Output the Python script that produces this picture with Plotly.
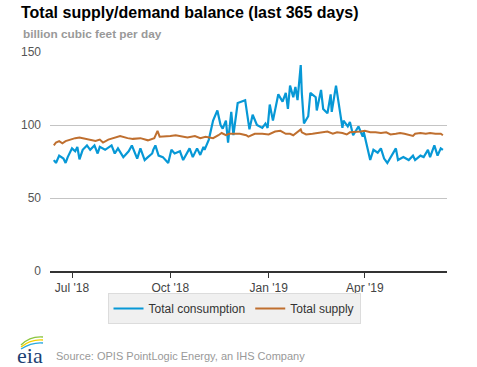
import plotly.graph_objects as go

# ---------------- data ----------------
consumption_dates = [
    "2018-06-14", "2018-06-16", "2018-06-19", "2018-06-23", "2018-06-25", "2018-06-27",
    "2018-07-01", "2018-07-04", "2018-07-06", "2018-07-08", "2018-07-11", "2018-07-15",
    "2018-07-18", "2018-07-22", "2018-07-25", "2018-07-27", "2018-08-01", "2018-08-03",
    "2018-08-07", "2018-08-10", "2018-08-13", "2018-08-18", "2018-08-23", "2018-08-26",
    "2018-08-31", "2018-09-03", "2018-09-07", "2018-09-10", "2018-09-14", "2018-09-15",
    "2018-09-17", "2018-09-20", "2018-09-24", "2018-09-29", "2018-10-02", "2018-10-05",
    "2018-10-10", "2018-10-13", "2018-10-17", "2018-10-19", "2018-10-22", "2018-10-26",
    "2018-10-29", "2018-11-01", "2018-11-02", "2018-11-06", "2018-11-10", "2018-11-14",
    "2018-11-17", "2018-11-19", "2018-11-22", "2018-11-24", "2018-11-27", "2018-11-29",
    "2018-12-03", "2018-12-10", "2018-12-14", "2018-12-17", "2018-12-21", "2018-12-26",
    "2018-12-29", "2018-12-31", "2019-01-02", "2019-01-05", "2019-01-10", "2019-01-14",
    "2019-01-17", "2019-01-19", "2019-01-21", "2019-01-24", "2019-01-26", "2019-01-28",
    "2019-01-31", "2019-02-01", "2019-02-03", "2019-02-07", "2019-02-09", "2019-02-14",
    "2019-02-15", "2019-02-19", "2019-02-21", "2019-02-25", "2019-02-28", "2019-03-01",
    "2019-03-05", "2019-03-09", "2019-03-11", "2019-03-12", "2019-03-16", "2019-03-18",
    "2019-03-21", "2019-03-26", "2019-03-30", "2019-03-31", "2019-04-03", "2019-04-06",
    "2019-04-09", "2019-04-13", "2019-04-16", "2019-04-19", "2019-04-22", "2019-04-25",
    "2019-04-30", "2019-05-02", "2019-05-07", "2019-05-12", "2019-05-16", "2019-05-18",
    "2019-05-23", "2019-05-26", "2019-05-30", "2019-06-01", "2019-06-05", "2019-06-08",
    "2019-06-11", "2019-06-13",
]
consumption_values = [
    76, 74, 79, 77, 74, 78,
    84, 82, 85, 76.5, 83, 86,
    83, 86, 80.5, 85, 83, 84,
    86, 80.5, 84, 78, 82, 86,
    77, 84, 76, 78, 80.5, 83,
    86, 79, 78, 74, 83, 80.5,
    82, 76, 82, 84, 78, 84,
    79.5, 85, 83, 90, 103, 110,
    100, 97.5, 103, 88, 109, 93,
    115, 117, 97, 107, 100, 98,
    101, 98, 114, 103, 121, 116,
    122, 111, 127, 119, 126, 117,
    141, 122, 101, 106, 122, 119,
    110, 124, 111, 108, 121, 109,
    127, 106, 98, 103, 99, 102,
    93, 99, 92, 95, 85, 76,
    83, 81, 84, 77, 74, 78,
    84, 76, 78, 76, 79, 76,
    79, 78, 83, 78, 86, 79,
    84, 83,
]

supply_dates = [
    "2018-06-14", "2018-06-16", "2018-06-19", "2018-06-22", "2018-06-25", "2018-06-29",
    "2018-07-04", "2018-07-08", "2018-07-14", "2018-07-18", "2018-07-23", "2018-07-27",
    "2018-07-30", "2018-08-04", "2018-08-08", "2018-08-15", "2018-08-22", "2018-08-27",
    "2018-09-03", "2018-09-07", "2018-09-10", "2018-09-16", "2018-09-19", "2018-09-21",
    "2018-09-25", "2018-10-01", "2018-10-06", "2018-10-12", "2018-10-17", "2018-10-24",
    "2018-10-29", "2018-11-03", "2018-11-10", "2018-11-15", "2018-11-18", "2018-11-22",
    "2018-11-25", "2018-12-05", "2018-12-11", "2018-12-13", "2018-12-19", "2018-12-26",
    "2019-01-01", "2019-01-07", "2019-01-12", "2019-01-17", "2019-01-21", "2019-01-24",
    "2019-01-28", "2019-01-31", "2019-02-01", "2019-02-05", "2019-02-11", "2019-02-18",
    "2019-02-25", "2019-03-02", "2019-03-06", "2019-03-11", "2019-03-15", "2019-03-18",
    "2019-03-23", "2019-03-28", "2019-04-01", "2019-04-06", "2019-04-11", "2019-04-16",
    "2019-04-21", "2019-04-25", "2019-04-30", "2019-05-04", "2019-05-08", "2019-05-12",
    "2019-05-16", "2019-05-18", "2019-05-23", "2019-05-28", "2019-06-01", "2019-06-06",
    "2019-06-11", "2019-06-13",
]
supply_values = [
    86, 88, 89, 87.5, 89, 90,
    91, 91.5, 90.5, 90, 89, 90,
    88, 90, 91, 92.5, 91, 90.5,
    91, 90, 89.5, 91, 96, 92,
    92, 92.5, 93, 92, 91.5, 92.5,
    91, 92, 91, 93, 94.5, 93,
    94, 94, 93, 92, 94, 94,
    93.5, 95.5, 96, 94, 94, 93,
    95, 97, 95, 93.5, 94, 94.5,
    95.5, 94, 95, 94.5, 93.5, 95,
    95, 95.5, 96, 95, 95, 94.5,
    95, 93.5, 94, 94.5, 94, 93,
    92.5, 94, 94.5, 94, 94.5, 94,
    94, 93,
]

tick_dates = ["2018-07-01", "2018-10-01", "2019-01-01", "2019-04-01"]
tick_labels = ["Jul '18", "Oct '18", "Jan '19", "Apr '19"]
y_ticks = [0, 50, 100, 150]

series_names = ["Total consumption", "Total supply"]
series_colors = ["#0798d6", "#bf6f2f"]

title_text = "Total supply/demand balance (last 365 days)"
unit_text = "billion cubic feet per day"
source_text = "Source: OPIS PointLogic Energy, an IHS Company"

# ---------------- figure ----------------
W, H = 477, 367
ML, MR, MT, MB = 50, 30, 52, 96
PW, PH = W - ML - MR, H - MT - MB


def px(x):
    return (x - ML) / PW


def py(y):
    return (H - MB - y) / PH


FONT = "Liberation Sans, Arial, sans-serif"

fig = go.Figure()
fig.add_trace(go.Scatter(
    x=consumption_dates, y=consumption_values, mode="lines",
    name=series_names[0], line=dict(color=series_colors[0], width=2.2),
))
fig.add_trace(go.Scatter(
    x=supply_dates, y=supply_values, mode="lines",
    name=series_names[1], line=dict(color=series_colors[1], width=2),
))

fig.update_layout(
    width=W, height=H,
    margin=dict(l=ML, r=MR, t=MT, b=MB, pad=0),
    paper_bgcolor="white", plot_bgcolor="white",
    font=dict(family=FONT, size=12, color="#444"),
    showlegend=True,
    legend=dict(
        orientation="h", x=px(234), xanchor="center", y=py(293), yanchor="top",
        bgcolor="#f0f0f0", bordercolor="#dcdcdc", borderwidth=1,
        itemwidth=30,
        font=dict(family=FONT, size=12, color="#333"),
    ),
    xaxis=dict(
        type="date",
        range=["2018-06-10 10:00", "2019-06-16 20:00"],
        tickvals=tick_dates, ticktext=tick_labels,
        showgrid=False, zeroline=False,
        showline=True, linecolor="#333", linewidth=1.5,
        ticks="outside", ticklen=5, tickcolor="#333", tickwidth=1,
        tickfont=dict(family=FONT, size=12, color="#444"),
        fixedrange=True,
    ),
    yaxis=dict(
        range=[0, 150], tickvals=y_ticks,
        showgrid=True, gridcolor="#c4c4c4", gridwidth=1,
        zeroline=False, showline=False, ticks="",
        ticklabelstandoff=8,
        tickfont=dict(family=FONT, size=12, color="#555"),
        fixedrange=True,
    ),
)

annotations = [
    dict(text="<b>" + title_text + "</b>", xref="paper", yref="paper",
         x=px(19), y=py(12), xanchor="left", yanchor="middle", showarrow=False,
         font=dict(family=FONT, size=16, color="#000")),
    dict(text="<b>" + unit_text + "</b>", xref="paper", yref="paper",
         x=px(21), y=py(34), xanchor="left", yanchor="middle", showarrow=False,
         font=dict(family=FONT, size=11.8, color="#999")),
    dict(text=source_text, xref="paper", yref="paper",
         x=px(54), y=py(356), xanchor="left", yanchor="middle", showarrow=False,
         font=dict(family=FONT, size=11, color="#999")),
    dict(text="eia", xref="paper", yref="paper",
         x=px(30), y=py(355), xanchor="center", yanchor="middle", showarrow=False,
         font=dict(family="Liberation Serif, DejaVu Serif, serif", size=22, color="#1d3f73")),
]
fig.update_layout(annotations=annotations)


def arc_path(x0, y0, xm, ym, x1, y1):
    return (f"M {px(x0)},{py(y0)} Q {px(xm)},{py(ym)} {px(x1)},{py(y1)}")


logo_arcs = [
    (arc_path(21, 345, 30, 336, 43, 337), "#8cc63f"),
    (arc_path(21, 347, 31, 339, 43, 340), "#f5d000"),
    (arc_path(21, 349, 32, 342, 43, 343), "#29a9e0"),
]
fig.update_layout(shapes=[
    dict(type="path", path=p, xref="paper", yref="paper",
         line=dict(color=c, width=1.4))
    for p, c in logo_arcs
])

fig.write_html(
    "out.html",
    config={"displayModeBar": False, "staticPlot": True},
    post_script="document.body.style.margin='0';document.body.style.overflow='hidden';",
)
